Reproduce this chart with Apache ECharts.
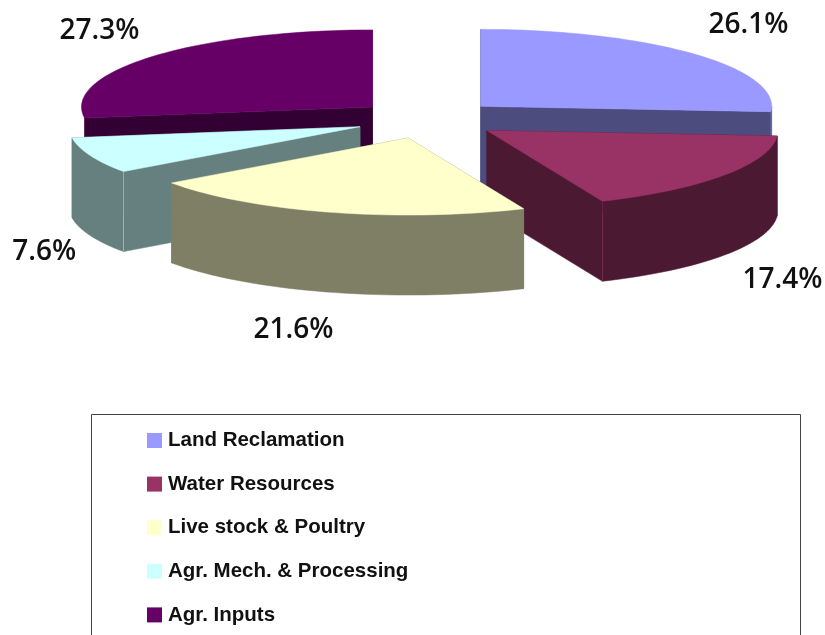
<!DOCTYPE html>
<html>
<head>
<meta charset="utf-8">
<style>
  html, body { margin: 0; padding: 0; background: #fff; }
  #main { width: 825px; height: 635px; overflow: hidden; }
</style>
<script src="https://cdn.jsdelivr.net/npm/echarts@6/dist/echarts.min.js"></script>
</head>
<body>
<div id="main"></div>
<script>
// data
var categories = ['Land Reclamation', 'Water Resources', 'Live stock & Poultry', 'Agr. Mech. & Processing', 'Agr. Inputs'];
var shares = [26.1, 17.4, 21.6, 7.6, 27.3];

// look
var topColors = ['#9999ff', '#993366', '#ffffcc', '#ccffff', '#660066'];
var sideColors = ['#4c4c7f', '#4c1933', '#7f7f66', '#667f7f', '#330033'];
var paintOrder = [0, 4, 3, 1, 2];   // slice indexes, back slices first
var labelOffsets = [[55, -29], [58, 25], [-37, 38], [-46, 17], [-53, -26]];

// pie projection
var cx = 427.5, cy = 119.5, rx = 291, ry = 77, depth = 80, explode = 0.25;

function rimPoint(ox, oy, deg, drop) {
    var a = deg * Math.PI / 180;
    return [ox + rx * Math.sin(a), oy - ry * Math.cos(a) + (drop || 0)];
}

function arcPoints(ox, oy, from, to, drop) {
    var pts = [], n = Math.max(2, Math.ceil((to - from) / 2));
    for (var i = 0; i <= n; i++) {
        pts.push(rimPoint(ox, oy, from + (to - from) * i / n, drop));
    }
    return pts;
}

function renderSlice(params, api) {
    var start = api.value(0), end = api.value(1), idx = api.value(2);
    var mid = (start + end) / 2;
    var off = rimPoint(cx, cy, mid);
    var ox = cx + (off[0] - cx) * explode;
    var oy = cy + (off[1] - cy) * explode;
    var side = sideColors[idx], top = topColors[idx];
    var kids = [];

    function wall(a, b) {
        kids.push({ type: 'polygon', shape: { points: a.concat(b.slice().reverse()) }, style: { fill: side, stroke: side, lineWidth: 0.5 } });
    }
    // cut faces
    [start, end].forEach(function (d) {
        var p = rimPoint(ox, oy, d);
        wall([[ox, oy], p], [[ox, oy + depth], [p[0], p[1] + depth]]);
    });
    // outer wall, only the part facing the viewer
    var from = Math.max(start, 90), to = Math.min(end, 270);
    if (to > from && from < 250) {
        wall(arcPoints(ox, oy, from, to), arcPoints(ox, oy, from, to, depth));
    }
    // thin light edge on the front corners
    var corner = end < 180 ? end : (start > 180 ? start : null);
    if (corner !== null) {
        var c = rimPoint(ox, oy, corner);
        kids.push({ type: 'line', shape: { x1: c[0], y1: c[1], x2: c[0], y2: c[1] + depth }, style: { stroke: top, opacity: 0.6, lineWidth: 0.7 } });
    }
    // top
    kids.push({ type: 'polygon', shape: { points: [[ox, oy]].concat(arcPoints(ox, oy, start, end)) }, style: { fill: top, stroke: top, lineWidth: 0.5 } });
    // percent label
    var edge = rimPoint(ox, oy, mid, (mid > 90 && mid < 270) ? depth : 0);
    kids.push({
        type: 'text',
        style: {
            text: shares[idx].toFixed(1) + '%',
            x: edge[0] + labelOffsets[idx][0],
            y: edge[1] + labelOffsets[idx][1],
            align: 'center', verticalAlign: 'middle',
            font: '600 28px "Open Sans"', fill: '#111'
        }
    });
    return { type: 'group', children: kids };
}

// cumulative angles per slice
var angle = 0;
var ranges = shares.map(function (s) {
    var r = [angle, angle + s / 100 * 360];
    angle = r[1];
    return r;
});

var series = paintOrder.map(function (i) {
    return {
        name: categories[i],
        type: 'custom',
        coordinateSystem: 'none',
        itemStyle: { color: topColors[i] },
        renderItem: renderSlice,
        data: [[ranges[i][0], ranges[i][1], i]]
    };
});

var chart = echarts.init(document.getElementById('main'));
chart.setOption({
    animation: false,
    backgroundColor: '#fff',
    legend: {
        data: categories.map(function (c) { return { name: c, icon: 'rect' }; }),
        orient: 'vertical',
        left: 147,
        top: 430,
        height: 300,
        padding: 0,
        itemWidth: 15,
        itemHeight: 15,
        itemGap: 22.6,
        selectedMode: false,
        textStyle: { fontFamily: 'Liberation Sans', fontSize: 20.5, fontWeight: 'bold', color: '#111', padding: [0, 0, 0, 1] }
    },
    graphic: [{
        type: 'rect',
        shape: { x: 91.5, y: 414.5, width: 709, height: 300 },
        style: { fill: 'none', stroke: '#444', lineWidth: 1 }
    }],
    series: series
});
</script>
</body>
</html>
